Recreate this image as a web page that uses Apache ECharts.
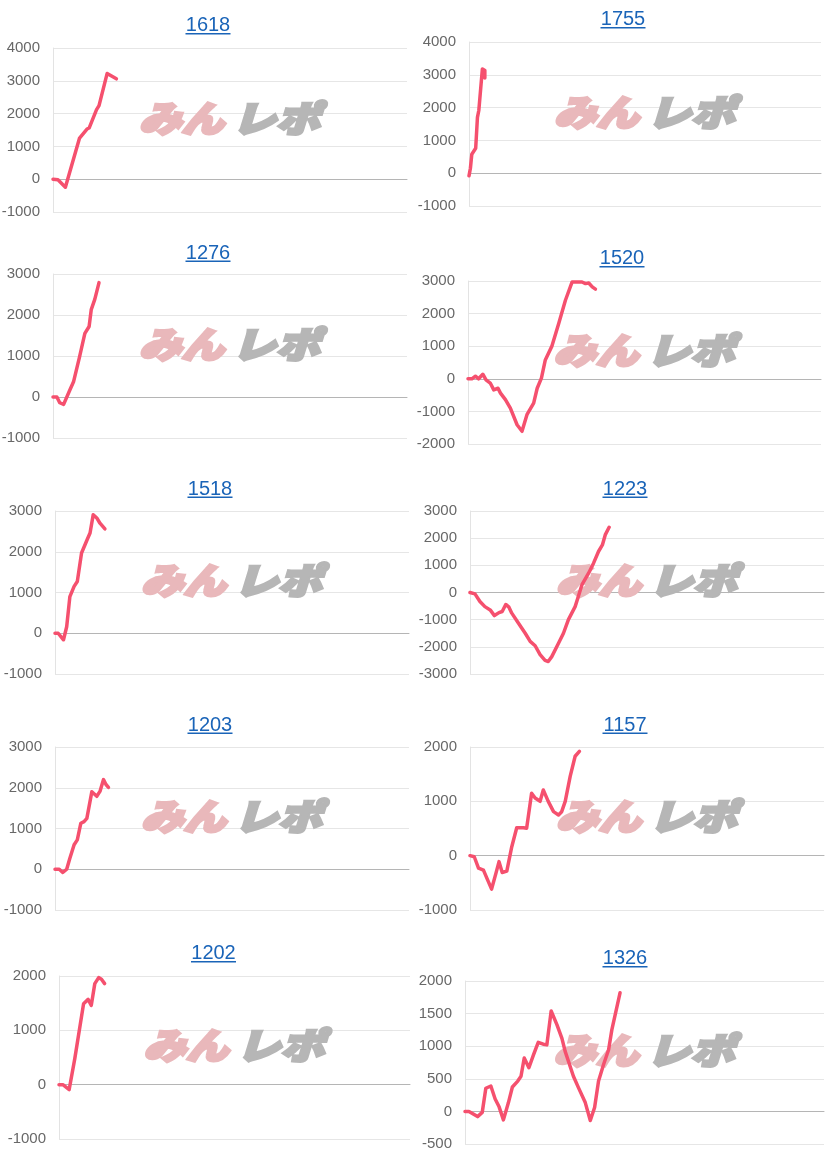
<!DOCTYPE html>
<html><head><meta charset="utf-8">
<script src="https://cdn.jsdelivr.net/npm/echarts@6/dist/echarts.min.js"></script>
<style>html,body{margin:0;padding:0;background:#fff}#c{width:825px;height:1160px}</style>
</head><body><div id="c"></div>
<script>
// ---- data ----
const titles = ['1618','1755','1276','1520','1518','1223','1203','1157','1202','1326'];
const s1618 = [[0,0],[1.4,-20],[3.5,-245],[7.5,1255],[9.6,1530],[10.2,1560],[12.3,2120],[13,2245],[15.3,3225],[17.9,3060]];
const s1755 = [[0,-80],[0.4,150],[0.8,580],[1.9,760],[2.4,1700],[2.8,1920],[3.3,1970],[3.8,3180],[4.2,3230],[4.5,3130],[4.5,2900]];
const s1276 = [[0,0],[1.1,0],[1.9,-140],[3,-180],[4.7,160],[5.8,370],[7.5,980],[9,1550],[10.2,1720],[10.8,2130],[11.8,2380],[13,2790]];
const s1520 = [[0,0],[1.1,0],[2.1,80],[3,0],[4.2,140],[5.1,-30],[6.3,-130],[7.3,-340],[8.5,-290],[9.2,-440],[10.6,-640],[12,-900],[13.9,-1410],[15.3,-1610],[15.8,-1640],[16.7,-1100],[18.6,-745],[19.6,-290],[20.8,20],[21.9,580],[23.8,1010],[25.7,1700],[27.6,2410],[29.5,2970],[30.9,2970],[32.3,2970],[33.3,2920],[34.2,2940],[35.2,2820],[36.1,2750]];
const s1518 = [[0,0],[0.9,0],[2.4,-160],[3.3,160],[4.2,900],[5.4,1150],[6.3,1270],[7.5,1970],[9.1,2300],[9.9,2460],[10.8,2910],[11.8,2830],[12.7,2700],[14.1,2560]];
const s1223 = [[0,0],[1.4,-50],[2.8,-330],[4.2,-520],[5.7,-640],[6.9,-850],[8.2,-740],[9.1,-700],[10.1,-440],[11,-540],[11.8,-760],[13.7,-1130],[15.6,-1500],[17,-1800],[18.4,-1960],[19.8,-2290],[21.2,-2500],[22.1,-2540],[23.1,-2360],[25,-1870],[26.4,-1500],[27.8,-1000],[29.7,-520],[30.6,-150],[31.6,280],[33.5,710],[34.9,1080],[36.3,1510],[37.4,1750],[38.2,2120],[39.3,2400]];
const s1203 = [[0,0],[1.2,0],[2.2,-80],[3.3,0],[4.2,270],[5.4,600],[6.3,720],[7.3,1130],[8.2,1170],[9,1250],[10.4,1900],[11.8,1790],[12.7,1910],[13.7,2200],[14.4,2080],[15.1,2010]];
const s1157 = [[0,0],[1.2,-20],[2.4,-230],[3.8,-265],[5,-450],[6.1,-615],[7.3,-330],[8.2,-110],[9.1,-310],[10.4,-285],[11.8,165],[13.2,515],[15.1,515],[16,505],[17.4,1150],[18.4,1060],[19.8,1000],[20.7,1210],[22.1,1000],[23.6,810],[25,750],[25.9,810],[26.9,1000],[28.3,1460],[29.7,1830],[30.9,1920]];
const s1202 = [[0,0],[1.1,0],[2.9,-90],[4.5,480],[7,1490],[8.3,1570],[9.2,1460],[10.2,1860],[11.3,1970],[12.1,1940],[13,1860]];
const s1326 = [[0,0],[1.1,0],[3.5,-80],[4.8,-15],[5.8,355],[7.2,390],[8.4,190],[9.5,70],[10.7,-130],[12.1,135],[13.2,375],[14.7,465],[15.6,540],[16.5,820],[17.8,670],[19.1,870],[20.4,1060],[21.8,1030],[22.8,1020],[24,1540],[25.6,1330],[27,1120],[27.9,920],[30.2,540],[31.6,365],[33.5,135],[34.9,-140],[36.1,60],[37.2,465],[38.6,720],[40,945],[40.9,1250],[43.2,1820]];
const yMin = [-1000,-1000,-1000,-2000,-1000,-3000,-1000,-1000,-1000,-500];
const yMax = [4000,4000,3000,3000,3000,3000,3000,2000,2000,2000];
const yStep = [1000,1000,1000,1000,1000,1000,1000,1000,1000,500];
const seriesData = [s1618,s1755,s1276,s1520,s1518,s1223,s1203,s1157,s1202,s1326];

// ---- layout (px) ----
const layout = [
  {l:53, t:48,  w:354, h:164, tx:208, ty:25.5},
  {l:469,t:42,  w:352, h:164, tx:623, ty:19.5},
  {l:53, t:274, w:354, h:164, tx:208, ty:253},
  {l:468,t:281, w:353, h:163, tx:622, ty:258.5},
  {l:55, t:511, w:354, h:163, tx:210, ty:489},
  {l:470,t:511, w:354, h:163, tx:625, ty:489},
  {l:55, t:747, w:354, h:163, tx:210, ty:725},
  {l:470,t:747, w:354, h:163, tx:625, ty:725},
  {l:59, t:976, w:351, h:163, tx:213.5, ty:953.5},
  {l:465,t:981, w:359, h:163, tx:625, ty:958.5}
];

const LINK = '#1a64b8';
const grids=[], xAxes=[], yAxes=[], series=[], graphics=[];
layout.forEach((p,i)=>{
  grids.push({left:p.l, top:p.t, width:p.w, height:p.h, containLabel:false, outerBoundsMode:'none'});
  xAxes.push({gridIndex:i, type:'value', min:0, max:100,
    axisLine:{show:true, onZero:true, lineStyle:{color:'#b5b5b5', width:1}},
    axisTick:{show:false}, axisLabel:{show:false}, splitLine:{show:false}});
  yAxes.push({gridIndex:i, type:'value', min:yMin[i], max:yMax[i], interval:yStep[i],
    axisLine:{show:true, onZero:false, lineStyle:{color:'#e3e3e3'}},
    axisTick:{show:false},
    axisLabel:{color:'#686868', fontSize:15, fontFamily:'Arial, "Liberation Sans", sans-serif', margin:13,
      formatter:(v)=>String(v)},
    splitLine:{show:true, lineStyle:{color:'#e6e6e6', width:1}}});
  series.push({type:'line', xAxisIndex:i, yAxisIndex:i, data:seriesData[i],
    showSymbol:false, symbol:'none', smooth:false, z:5,
    lineStyle:{color:'#f5506e', width:3.5, cap:'round', join:'round'}});
  // title + underline
  graphics.push({type:'text', x:p.tx, y:p.ty, z:10,
    style:{text:titles[i], fill:LINK, font:'20px Arial, "Liberation Sans", sans-serif', textAlign:'center', textVerticalAlign:'middle'}});
  graphics.push({type:'rect', shape:{x:p.tx-22.5, y:p.ty+7.5, width:45, height:1.5}, z:10, style:{fill:LINK}});
  // watermark
  const cx = p.l + p.w/2 - 2, cy = p.t + p.h/2 - 12;
  graphics.push({type:'text', x:cx-4, y:cy, scaleX:1.18, z:1,
    style:{text:'みん', fill:'#e9b8bb', stroke:'#e9b8bb', lineWidth:3, font:'italic 900 36px "Noto Sans CJK JP"', textAlign:'right', textVerticalAlign:'middle'}});
  graphics.push({type:'text', x:cx+4, y:cy, scaleX:1.22, z:1,
    style:{text:'レポ', fill:'#b6b6b6', stroke:'#b6b6b6', lineWidth:3, font:'italic 900 36px "Noto Sans CJK JP"', textAlign:'left', textVerticalAlign:'middle'}});
});

const chart = echarts.init(document.getElementById('c'), null, {renderer:'canvas'});
chart.setOption({
  animation:false,
  backgroundColor:'#ffffff',
  grid:grids, xAxis:xAxes, yAxis:yAxes, series:series,
  graphic:{elements:graphics}
});
</script></body></html>
